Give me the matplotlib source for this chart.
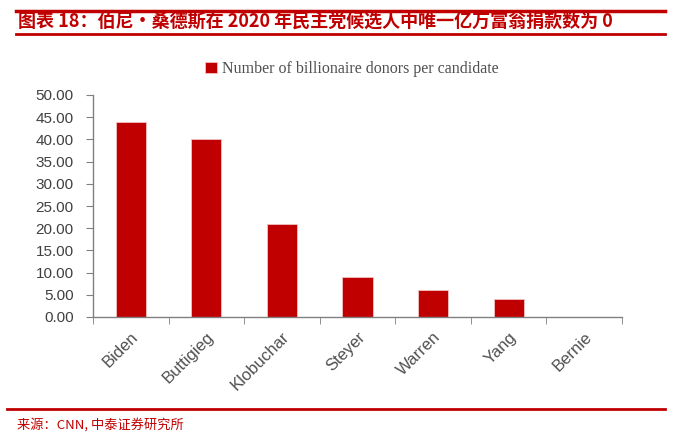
import matplotlib.pyplot as plt
from matplotlib.lines import Line2D
import numpy as np

# -----------------------------
# Data
# -----------------------------
candidates = ["Biden", "Buttigieg", "Klobuchar", "Steyer", "Warren", "Yang", "Bernie"]
donors = [44, 40, 21, 9, 6, 4, 0]
y_ticks = [0, 5, 10, 15, 20, 25, 30, 35, 40, 45, 50]

title_text = "图表 18：伯尼·桑德斯在 2020 年民主党候选人中唯一亿万富翁捐款数为 0"
legend_text = "Number of billionaire donors per candidate"
source_text = "来源：CNN, 中泰证券研究所"

red = "#C00000"
grey = "#808080"
label_color = "#404040"

# -----------------------------
# Figure
# -----------------------------
plt.rcParams["font.family"] = ["Liberation Sans", "Noto Sans CJK SC", "DejaVu Sans"]

W, H = 677, 441
fig = plt.figure(figsize=(W / 100, H / 100), dpi=100)
ax = fig.add_axes([93 / W, 1 - 317 / H, (622 - 93) / W, (317 - 95) / H])

x = np.arange(len(candidates))
ax.bar(x, donors, width=0.4, color=red, edgecolor="#F2C4C4", linewidth=0.6,
       label=legend_text)

ax.set_xlim(-0.5, len(candidates) - 0.5)
ax.set_ylim(0, 50)
ax.set_yticks(y_ticks)
ax.set_yticklabels([f"{v:.2f}" for v in y_ticks], fontsize=11, color=label_color)

# category labels in centre, tick marks on the boundaries
ax.set_xticks(x)
ax.set_xticklabels(candidates, rotation=45, ha="right", rotation_mode="anchor",
                   fontsize=12, color="#505050")
ax.tick_params(axis="x", which="major", length=0, pad=9)
ax.set_xticks(np.arange(-0.5, len(candidates)), minor=True)
ax.tick_params(axis="x", which="minor", length=5, color=grey, direction="out")
ax.tick_params(axis="y", length=5, color=grey, direction="out", pad=9)

for side in ["top", "right"]:
    ax.spines[side].set_visible(False)
for side in ["left", "bottom"]:
    ax.spines[side].set_color(grey)
    ax.spines[side].set_linewidth(1.0)

leg = fig.legend(loc="center", bbox_to_anchor=(352 / W, 1 - 69 / H), frameon=False,
                 prop={"family": "Liberation Serif", "size": 11.5},
                 handlelength=0.75, handleheight=0.75, handletextpad=0.3)
for t in leg.get_texts():
    t.set_color("#505050")

# -----------------------------
# Header / footer decoration
# -----------------------------
fig.add_artist(Line2D([16 / W, 665 / W], [1 - 11 / H, 1 - 11 / H], color=red, lw=2.5))
fig.add_artist(Line2D([16 / W, 665 / W], [1 - 34 / H, 1 - 34 / H], color=red, lw=2.0))
fig.text(18 / W, 1 - 22.5 / H, title_text, color=red, fontsize=13, fontweight="bold",
         family=["Noto Sans CJK SC", "DejaVu Sans"], va="center", ha="left")

fig.add_artist(Line2D([7 / W, 665 / W], [1 - 409 / H, 1 - 409 / H], color=red, lw=2.0))
fig.text(17 / W, 1 - 425 / H, source_text, color=red, fontsize=9.5,
         family=["Noto Sans CJK SC", "DejaVu Sans"], va="center", ha="left")

fig.savefig("out.png", dpi=100)
